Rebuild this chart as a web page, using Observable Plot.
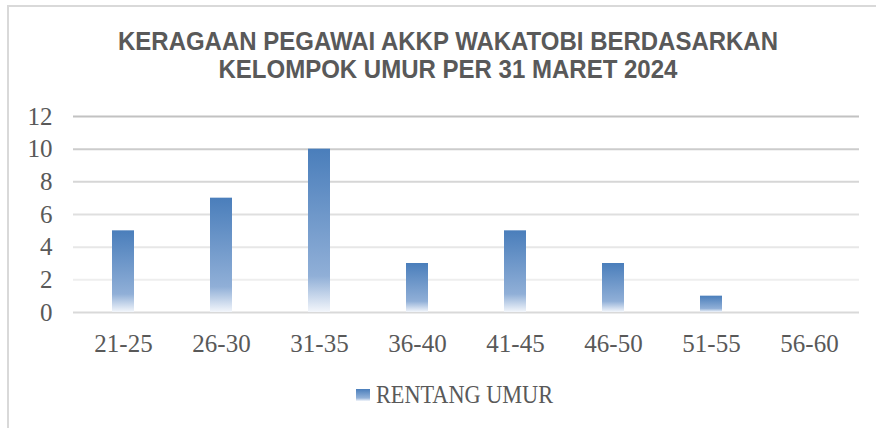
<!DOCTYPE html>
<html><head><meta charset="utf-8">
<script src="https://cdn.jsdelivr.net/npm/d3@7"></script>
<script src="https://cdn.jsdelivr.net/npm/@observablehq/plot@0.6"></script>
<style>
body{margin:0;background:#fff;}
#wrap{position:relative;width:876px;height:428px;overflow:hidden;background:#fff;}
#frame{position:absolute;left:7px;top:5px;width:900px;height:500px;border-top:2px solid #d9d9d9;border-left:2px solid #d9d9d9;}
.title{position:absolute;left:10px;width:876px;text-align:center;font-family:"Liberation Sans",Arial,sans-serif;font-weight:bold;font-size:25px;line-height:28px;color:#595959;white-space:nowrap;}
.title span{display:inline-block;transform-origin:50% 50%;}
#chart{position:absolute;left:0;top:96px;}
#legend{position:absolute;left:356px;top:381px;height:28px;display:flex;align-items:center;white-space:nowrap;}
#legend .sw{width:14px;height:12px;background:linear-gradient(#4a7ebb 0%,#93b2d9 75%,#f3f6fb 100%);margin-right:6px;}
#legend .lt{font-family:"Liberation Serif",serif;font-size:25px;color:#595959;display:inline-block;transform-origin:0 50%;}
</style></head>
<body>
<div id="wrap">
  <div id="frame"></div>
  <div class="title" id="t1" style="top:27px"><span></span></div>
  <div class="title" id="t2" style="top:55px"><span></span></div>
  <div id="chart"></div>
  <div id="legend"><div class="sw"></div><span class="lt"></span></div>
</div>
<script>
const titleLines = ["KERAGAAN PEGAWAI AKKP WAKATOBI BERDASARKAN", "KELOMPOK UMUR PER 31 MARET 2024"];
const categories = ["21-25","26-30","31-35","36-40","41-45","46-50","51-55","56-60"];
const values = [5, 7, 10, 3, 5, 3, 1, 0];
const yTicks = [0, 2, 4, 6, 8, 10, 12];
const seriesName = "RENTANG UMUR";

const data = categories.map((c, i) => ({kategori: c, jumlah: values[i]}));

document.querySelector("#t1 span").textContent = titleLines[0];
document.querySelector("#t2 span").textContent = titleLines[1];
document.querySelector("#legend .lt").textContent = seriesName;

const gridColor = d => d === 0 ? "#d9d9d9" : d3.interpolateRgb("#f3f3f3", "#c2c2c2")(Math.pow(d / 12, 1.3));

const defs = () => {
  const g = d3.create("svg:defs");
  const lg = g.append("linearGradient").attr("id", "barGrad").attr("x1", 0).attr("y1", 0).attr("x2", 0).attr("y2", 1);
  lg.append("stop").attr("offset", "0%").attr("stop-color", "#4a7ebb");
  lg.append("stop").attr("offset", "78%").attr("stop-color", "#90afd7");
  lg.append("stop").attr("offset", "100%").attr("stop-color", "#f3f6fb");
  return g.node();
};

const plot = Plot.plot({
  width: 876,
  height: 270,
  marginLeft: 73,
  marginRight: 17,
  marginTop: 20,
  marginBottom: 54,
  style: {fontFamily: "'Liberation Serif', serif", fontSize: "25px", color: "#595959", background: "transparent"},
  x: {domain: categories, paddingInner: 0.776, paddingOuter: 0.388, label: null},
  y: {domain: [0, 12], label: null},
  color: {type: "identity"},
  marks: [
    defs,
    Plot.ruleY(yTicks, {y: d => d, stroke: d => gridColor(d), strokeWidth: 2}),
    Plot.barY(data, {x: "kategori", y: "jumlah", fill: "url(#barGrad)"}),
    Plot.axisY(yTicks, {tickSize: 0, tickPadding: 21, label: null, fontSize: 25}),
    Plot.axisX({tickSize: 0, tickPadding: 22, label: null, fontSize: 25})
  ]
});
document.getElementById("chart").appendChild(plot);

function fit(el, target) {
  el.style.transform = "none";
  const w = el.getBoundingClientRect().width;
  if (w > 0) el.style.transform = `scaleX(${target / w})`;
}
fit(document.querySelector("#t1 span"), 660);
fit(document.querySelector("#t2 span"), 459);
fit(document.querySelector("#legend .lt"), 177);
</script>
</body></html>
